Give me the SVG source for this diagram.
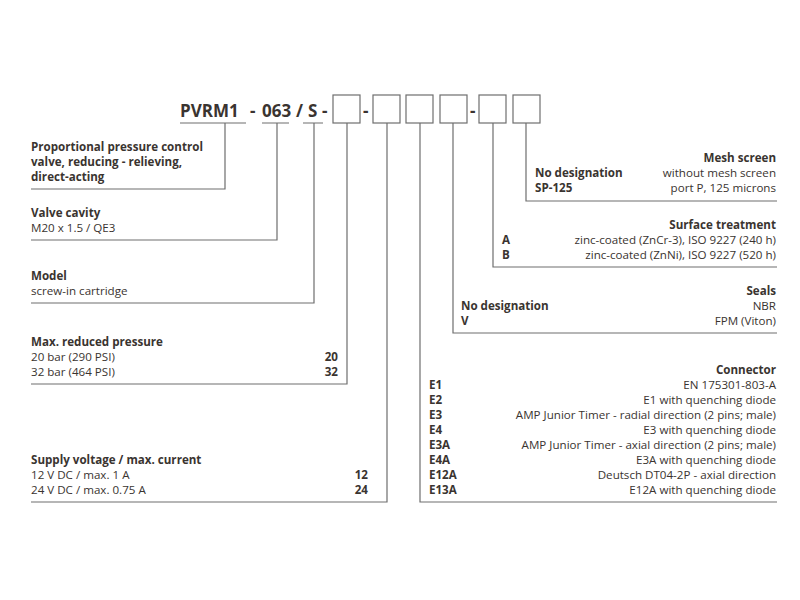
<svg xmlns="http://www.w3.org/2000/svg" width="800" height="600" viewBox="0 0 800 600">
<style>
text{font-family:"Open Sans","Liberation Sans",sans-serif;font-size:11.6px;fill:#3a3430}
.b{font-weight:bold}
.r{text-anchor:end}
.code{font-size:17px;font-weight:bold}
.ln{fill:none;stroke:#6e6e6e;stroke-width:1.2}
.bx{fill:#fff;stroke:#6e6e6e;stroke-width:1.2}
</style>
<rect width="800" height="600" fill="#fff"/>
<g id="code">
<text class="code" x="180" y="117">PVRM1</text>
<text class="code" x="250" y="117">-</text>
<text class="code" x="262" y="117">063</text>
<text class="code" x="296" y="117">/</text>
<text class="code" x="308" y="117">S</text>
<text class="code" x="322" y="117">-</text>
<text class="code" x="363" y="117">-</text>
<text class="code" x="470" y="117">-</text>
<rect class="bx" x="333" y="95" width="27" height="28"/>
<rect class="bx" x="373" y="95" width="27" height="28"/>
<rect class="bx" x="406" y="95" width="27" height="28"/>
<rect class="bx" x="440" y="95" width="27" height="28"/>
<rect class="bx" x="479" y="95" width="27" height="28"/>
<rect class="bx" x="513" y="95" width="27" height="28"/>
<path class="ln" d="M180 123H246M262 123H289M303 123H323"/>
</g>
<g id="connectors">
<path class="ln" d="M225 123V189H31"/>
<path class="ln" d="M277 123V240H31"/>
<path class="ln" d="M314 123V303H31"/>
<path class="ln" d="M347 123V384H31"/>
<path class="ln" d="M387 123V502H31"/>
<path class="ln" d="M420 123V502H777"/>
<path class="ln" d="M453 123V333H777"/>
<path class="ln" d="M493 123V267H777"/>
<path class="ln" d="M526 123V201H777"/>
</g>
<g id="node-type">
<text class="b" x="31" y="151">Proportional pressure control</text>
<text class="b" x="31" y="166">valve, reducing - relieving,</text>
<text class="b" x="31" y="181">direct-acting</text>
</g>
<g id="node-cavity">
<text class="b" x="31" y="217">Valve cavity</text>
<text x="31" y="232">M20 x 1.5 / QE3</text>
</g>
<g id="node-model">
<text class="b" x="31" y="280">Model</text>
<text x="31" y="295">screw-in cartridge</text>
</g>
<g id="node-pressure">
<text class="b" x="31" y="346">Max. reduced pressure</text>
<text x="31" y="361">20 bar (290 PSI)</text>
<text x="31" y="376">32 bar (464 PSI)</text>
<text class="b r" x="338" y="361">20</text>
<text class="b r" x="338" y="376">32</text>
</g>
<g id="node-supply">
<text class="b" x="31" y="464">Supply voltage / max. current</text>
<text x="31" y="479">12 V DC / max. 1 A</text>
<text x="31" y="494">24 V DC / max. 0.75 A</text>
<text class="b r" x="368" y="479">12</text>
<text class="b r" x="368" y="494">24</text>
</g>
<g id="node-mesh">
<text class="b r" x="776" y="162">Mesh screen</text>
<text class="b" x="535" y="177">No designation</text>
<text class="b" x="535" y="192">SP-125</text>
<text class="r" x="776" y="177">without mesh screen</text>
<text class="r" x="776" y="192">port P, 125 microns</text>
</g>
<g id="node-surface">
<text class="b r" x="776" y="229">Surface treatment</text>
<text class="b" x="502" y="244">A</text>
<text class="b" x="502" y="259">B</text>
<text class="r" x="776" y="244">zinc-coated (ZnCr-3), ISO 9227 (240 h)</text>
<text class="r" x="776" y="259">zinc-coated (ZnNi), ISO 9227 (520 h)</text>
</g>
<g id="node-seals">
<text class="b r" x="776" y="295">Seals</text>
<text class="b" x="461" y="310">No designation</text>
<text class="b" x="461" y="325">V</text>
<text class="r" x="776" y="310">NBR</text>
<text class="r" x="776" y="325">FPM (Viton)</text>
</g>
<g id="node-connector">
<text class="b r" x="776" y="374">Connector</text>
<text class="b" x="429" y="389">E1</text>
<text class="b" x="429" y="404">E2</text>
<text class="b" x="429" y="419">E3</text>
<text class="b" x="429" y="434">E4</text>
<text class="b" x="429" y="449">E3A</text>
<text class="b" x="429" y="464">E4A</text>
<text class="b" x="429" y="479">E12A</text>
<text class="b" x="429" y="494">E13A</text>
<text class="r" x="776" y="389">EN 175301-803-A</text>
<text class="r" x="776" y="404">E1 with quenching diode</text>
<text class="r" x="776" y="419">AMP Junior Timer - radial direction (2 pins; male)</text>
<text class="r" x="776" y="434">E3 with quenching diode</text>
<text class="r" x="776" y="449">AMP Junior Timer - axial direction (2 pins; male)</text>
<text class="r" x="776" y="464">E3A with quenching diode</text>
<text class="r" x="776" y="479">Deutsch DT04-2P - axial direction</text>
<text class="r" x="776" y="494">E12A with quenching diode</text>
</g>
</svg>
